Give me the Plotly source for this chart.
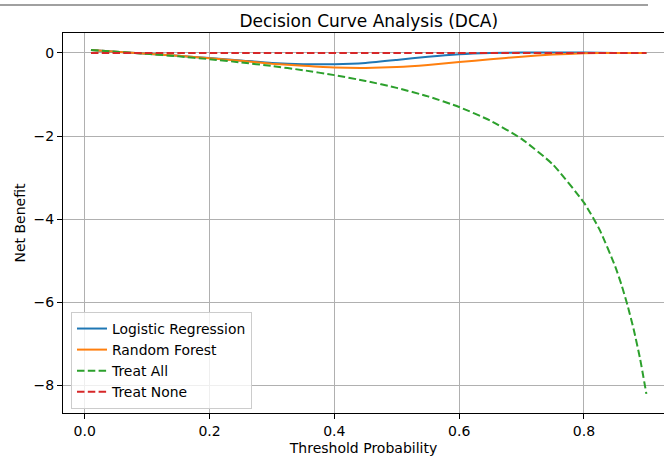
import plotly.graph_objects as go

# Threshold probabilities (x) and read-off net benefit values
thresholds = [0.01, 0.05, 0.10, 0.15, 0.20, 0.25, 0.30, 0.35, 0.40, 0.45,
              0.50, 0.55, 0.60, 0.65, 0.70, 0.75, 0.80, 0.85, 0.90]
logistic_nb = [0.07, 0.03, -0.02, -0.07, -0.12, -0.18, -0.24, -0.27, -0.27, -0.24,
               -0.17, -0.09, -0.03, 0.00, 0.01, 0.01, 0.01, 0.00, 0.00]
forest_nb = [0.07, 0.03, -0.02, -0.07, -0.13, -0.19, -0.26, -0.31, -0.35, -0.36,
             -0.34, -0.29, -0.22, -0.15, -0.09, -0.04, -0.01, 0.00, 0.00]

treat_all_x = [0.01, 0.05, 0.10, 0.15, 0.20, 0.25, 0.30, 0.35, 0.40, 0.45, 0.50,
               0.55, 0.60, 0.65, 0.70, 0.75, 0.80, 0.825, 0.85, 0.86, 0.87, 0.88,
               0.89, 0.90]
treat_all_nb = [0.071, 0.032, -0.022, -0.082, -0.15, -0.227, -0.314, -0.415, -0.533,
                -0.673, -0.84, -1.044, -1.30, -1.629, -2.067, -2.68, -3.60, -4.25,
                -5.13, -5.57, -6.08, -6.67, -7.36, -8.20]

treat_none_x = [0.01, 0.90]
treat_none_nb = [0.0, 0.0]

x_ticks = [0.0, 0.2, 0.4, 0.6, 0.8]
x_tick_labels = ["0.0", "0.2", "0.4", "0.6", "0.8"]
y_ticks = [-8, -6, -4, -2, 0]
y_tick_labels = ["\u22128", "\u22126", "\u22124", "\u22122", "0"]

FONT = "DejaVu Sans"
DASH = "7.5px,3.3px"

fig = go.Figure()
fig.add_trace(go.Scatter(x=thresholds, y=logistic_nb, mode="lines", name="Logistic Regression",
                         line=dict(color="#1f77b4", width=2, shape="spline", smoothing=0.6)))
fig.add_trace(go.Scatter(x=thresholds, y=forest_nb, mode="lines", name="Random Forest",
                         line=dict(color="#ff7f0e", width=2, shape="spline", smoothing=0.6)))
fig.add_trace(go.Scatter(x=treat_all_x, y=treat_all_nb, mode="lines", name="Treat All",
                         line=dict(color="#2ca02c", width=2, dash=DASH, shape="spline", smoothing=0.5)))
fig.add_trace(go.Scatter(x=treat_none_x, y=treat_none_nb, mode="lines", name="Treat None",
                         line=dict(color="#d62728", width=2, dash=DASH)))

W, H = 664, 457
L, R, T, B = 63, 0, 33, 44
pw = W - L - R
ph = H - T - B

fig.update_layout(
    width=W, height=H,
    margin=dict(l=L, r=R, t=T, b=B, pad=0),
    paper_bgcolor="white", plot_bgcolor="white",
    font=dict(family=FONT, size=14, color="black"),
    title=dict(text="Decision Curve Analysis (DCA)", font=dict(family=FONT, size=17, color="black"),
               xref="paper", x=(368.7 - L) / pw, xanchor="center",
               yref="container", y=1 - 21 / H, yanchor="middle"),
    showlegend=True,
    legend=dict(x=(71 - L) / pw, xanchor="left", y=(H - B - 409) / ph, yanchor="bottom",
                bgcolor="rgba(255,255,255,0.8)", bordercolor="#cccccc", borderwidth=1,
                font=dict(family=FONT, size=13.9, color="black"), tracegroupgap=0),
    xaxis=dict(range=[-0.0348, (664 - 85) / 623.75], tickvals=x_ticks, ticktext=x_tick_labels,
               showgrid=True, gridcolor="#b0b0b0", gridwidth=1, zeroline=False,
               showline=True, linecolor="black", linewidth=1, mirror=True,
               ticks="outside", ticklen=5, tickcolor="black", tickwidth=1,
               title=dict(text="Threshold Probability", font=dict(family=FONT, size=14), standoff=5)),
    yaxis=dict(range=[-8.66, 0.48], tickvals=y_ticks, ticktext=y_tick_labels,
               showgrid=True, gridcolor="#b0b0b0", gridwidth=1, zeroline=False,
               showline=True, linecolor="black", linewidth=1, mirror=False,
               ticks="outside", ticklen=5, tickcolor="black", tickwidth=1,
               title=dict(text="Net Benefit", font=dict(family=FONT, size=14), standoff=4)),
    shapes=[dict(type="line", xref="paper", yref="paper",
                 x0=(0 - L) / pw, x1=(648 - L) / pw,
                 y0=(H - B - 5) / ph, y1=(H - B - 5) / ph,
                 line=dict(color="#808080", width=1.5))],
)

fig.write_html("out.html",
               config={"displayModeBar": False},
               post_script="document.body.style.margin='0px';document.body.style.overflow='hidden';")
